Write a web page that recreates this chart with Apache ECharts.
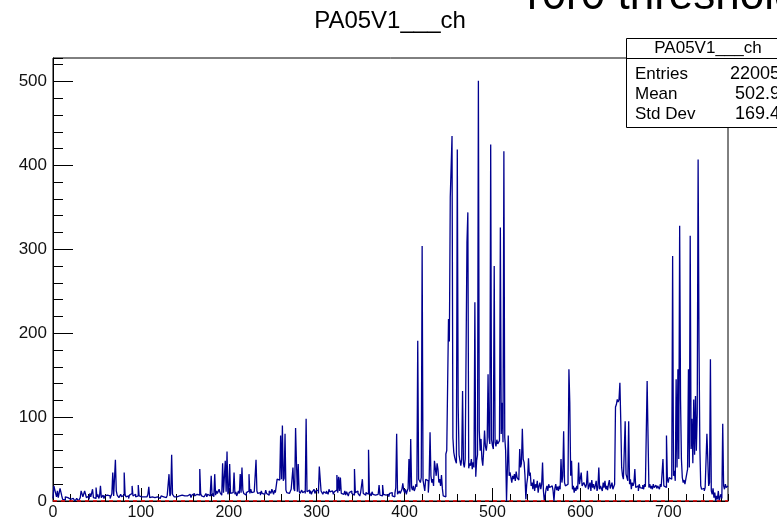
<!DOCTYPE html>
<html>
<head>
<meta charset="utf-8">
<script src="https://cdn.jsdelivr.net/npm/echarts@6/dist/echarts.min.js"></script>
<style>
  html, body { margin: 0; padding: 0; background: #fff; }
  #chart { width: 777px; height: 521px; }
</style>
</head>
<body>
<div id="chart"></div>
<script>
// bin contents of PA05V1___ch, channel 0..767
const counts = [
  3, 18, 17, 9, 5, 12, 4, 3, 15, 14, 6, 2, 3, 1, 5, 7, 4, 3, 6, 2,
  1, 0, 3, 2, 4, 0, 1, 3, 2, 0, 2, 4, 12, 11, 5, 3, 12, 8, 4, 3,
  6, 2, 9, 5, 3, 14, 4, 6, 3, 16, 5, 8, 3, 6, 18, 4, 5, 7, 3, 6,
  4, 7, 5, 8, 6, 3, 5, 9, 34, 6, 8, 49, 12, 7, 5, 4, 6, 8, 5, 3,
  7, 34, 8, 5, 4, 6, 3, 7, 5, 9, 18, 6, 4, 8, 5, 7, 6, 19, 6, 4,
  5, 3, 6, 5, 4, 7, 5, 3, 8, 17, 4, 6, 5, 3, 5, 4, 6, 3, 5, 7,
  4, 3, 5, 6, 4, 5, 3, 6, 4, 5, 7, 6, 32, 6, 9, 55, 8, 6, 5, 7,
  5, 6, 4, 6, 8, 5, 7, 9, 5, 6, 8, 4, 6, 7, 5, 8, 6, 4, 7, 5,
  9, 6, 5, 8, 6, 10, 7, 38, 9, 6, 8, 5, 7, 6, 9, 5, 8, 7, 6, 10,
  30, 6, 9, 5, 32, 7, 12, 9, 8, 14, 10, 9, 7, 45, 10, 9, 48, 11, 59, 8,
  12, 44, 9, 7, 10, 11, 34, 8, 11, 6, 8, 12, 9, 32, 10, 40, 13, 9, 11, 7,
  10, 8, 12, 32, 9, 14, 10, 8, 11, 9, 10, 49, 12, 9, 8, 10, 7, 12, 9, 11,
  8, 10, 13, 9, 11, 7, 12, 10, 9, 14, 11, 8, 13, 10, 12, 26, 24, 25, 28, 78,
  26, 90, 24, 27, 80, 13, 10, 12, 9, 11, 8, 14, 12, 40, 15, 12, 87, 46, 11, 44,
  12, 9, 11, 13, 10, 8, 12, 9, 98, 11, 10, 13, 9, 12, 8, 11, 10, 14, 9, 12,
  10, 13, 9, 41, 40, 12, 10, 8, 11, 13, 9, 12, 10, 8, 14, 11, 9, 12, 10, 8,
  11, 9, 13, 31, 10, 29, 12, 28, 9, 11, 8, 10, 12, 7, 11, 9, 6, 10, 8, 12,
  9, 11, 7, 38, 10, 8, 12, 9, 11, 6, 10, 8, 26, 9, 11, 7, 10, 12, 8, 61,
  10, 9, 6, 11, 8, 10, 7, 9, 5, 8, 10, 19, 7, 9, 6, 19, 8, 10, 7, 9,
  6, 8, 5, 9, 7, 10, 6, 8, 5, 9, 16, 80, 8, 10, 12, 9, 11, 14, 21, 13,
  10, 14, 8, 12, 15, 50, 11, 74, 16, 13, 18, 12, 15, 20, 17, 191, 26, 24, 22, 28,
  304, 25, 27, 12, 26, 28, 24, 10, 27, 82, 30, 22, 26, 18, 48, 50, 30, 45, 38, 22,
  26, 18, 31, 15, 6, 6, 5, 56, 60, 62, 217, 190, 362, 360, 435, 75, 58, 52, 48, 45,
  419, 113, 55, 48, 42, 50, 131, 45, 40, 50, 52, 308, 344, 39, 45, 42, 50, 38, 46, 40,
  237, 29, 48, 55, 501, 84, 60, 74, 50, 42, 60, 84, 65, 60, 70, 151, 76, 68, 425, 73,
  66, 62, 280, 70, 65, 73, 68, 70, 72, 326, 80, 117, 70, 417, 76, 60, 0, 40, 78, 30,
  34, 28, 22, 30, 26, 32, 24, 35, 28, 30, 25, 62, 40, 45, 86, 50, 46, 30, 2, 20,
  28, 51, 30, 34, 18, 22, 14, 26, 12, 20, 16, 24, 10, 18, 22, 14, 20, 46, 12, 0,
  0, 14, 18, 12, 20, 16, 14, 18, 19, 12, 0, 15, 20, 13, 17, 12, 18, 14, 50, 22,
  30, 83, 22, 18, 18, 20, 28, 157, 117, 30, 48, 14, 18, 10, 16, 12, 18, 14, 46, 20,
  22, 34, 18, 20, 22, 19, 16, 20, 36, 14, 18, 22, 12, 25, 16, 20, 14, 18, 24, 12,
  16, 40, 14, 18, 20, 12, 22, 16, 24, 14, 18, 13, 20, 25, 15, 18, 22, 14, 17, 20,
  112, 115, 121, 118, 121, 141, 95, 40, 30, 26, 28, 95, 32, 28, 24, 95, 20, 26, 14, 22,
  18, 22, 38, 16, 14, 18, 12, 20, 16, 18, 15, 19, 14, 20, 17, 18, 143, 78, 16, 20,
  15, 18, 14, 20, 16, 17, 19, 15, 18, 16, 14, 20, 17, 15, 50, 18, 20, 16, 78, 27,
  22, 28, 30, 26, 24, 292, 30, 36, 24, 145, 40, 157, 50, 328, 121, 50, 28, 22, 25, 20,
  26, 32, 38, 157, 40, 316, 62, 98, 45, 121, 55, 125, 60, 105, 407, 189, 62, 18, 14, 16,
  15, 12, 16, 14, 80, 50, 18, 22, 169, 12, 8, 15, 4, 10, 0, 6, 2, 12, 0, 5,
  8, 3, 92, 18, 14, 20, 16, 18
];
const nBins = 768;
// the red dashed line along zero
const zeroLineX = [0, 768];
const zeroLineY = [0, 0];

const statsLabels = ["Entries", "Mean", "Std Dev"];
const statsValues = ["22005", "502.9", "169.4"];

// step histogram: point at each bin's low edge, plus closing point at the upper edge
const histData = counts.map((v, i) => [i, v]);
histData.push([nBins, counts[counts.length - 1]]);

const font = "Liberation Sans, Arial, sans-serif";

const chart = echarts.init(document.getElementById("chart"));

const statsGraphics = [];
statsLabels.forEach((lab, i) => {
  statsGraphics.push({
    type: "text", x: 635, y: 74 + i * 20, z: 101,
    style: { text: lab, font: "17px " + font, fill: "#000", align: "left", verticalAlign: "middle" },
  });
  statsGraphics.push({
    type: "text", x: 780, y: 74 + i * 20, z: 101,
    style: { text: statsValues[i], font: "18px " + font, fill: "#000", align: "right", verticalAlign: "middle" },
  });
});

chart.setOption({
  animation: false,
  backgroundColor: "#fff",
  grid: {
    left: 53, right: 49, top: 58, bottom: 19,
    show: true, borderColor: "#000", borderWidth: 1,
  },
  xAxis: [
    {
      type: "value", min: 0, max: nBins, interval: 100,
      axisLine: { show: true, lineStyle: { color: "#000", width: 1 } },
      axisTick: { show: true, inside: true, length: 13, lineStyle: { color: "#000" } },
      axisLabel: { fontSize: 16, color: "#111", fontFamily: font, margin: 4, showMaxLabel: false },
      splitLine: { show: false },
    },
    {
      type: "value", min: 0, max: nBins, interval: 20, position: "bottom",
      axisLine: { show: false },
      axisTick: { show: true, inside: true, length: 7, lineStyle: { color: "#000" } },
      axisLabel: { show: false },
      splitLine: { show: false },
    },
  ],
  yAxis: [
    {
      type: "value", min: 0, max: 528, interval: 100,
      axisLine: { show: true, lineStyle: { color: "#000", width: 1 } },
      axisTick: { show: true, inside: true, length: 20, lineStyle: { color: "#000" } },
      axisLabel: { fontSize: 17, color: "#111", fontFamily: font, margin: 6, showMaxLabel: false },
      splitLine: { show: false },
    },
    {
      type: "value", min: 0, max: 528, interval: 20, position: "left",
      axisLine: { show: false },
      axisTick: { show: true, inside: true, length: 10, lineStyle: { color: "#000" } },
      axisLabel: { show: false },
      splitLine: { show: false },
    },
  ],
  series: [
    {
      type: "line",
      step: "end",
      data: histData,
      showSymbol: false,
      symbol: "none",
      lineStyle: { color: "#00008f", width: 1.3 },
      z: 3,
    },
    {
      type: "line",
      data: zeroLineX.map((x, i) => [x, zeroLineY[i]]),
      showSymbol: false,
      symbol: "none",
      lineStyle: { color: "#ff0000", width: 1.5, type: [4, 4] },
      z: 5,
    },
  ],
  graphic: [
    {
      type: "text", x: 527, y: 19, z: 100,
      style: { text: "r0r0 threshold", font: "44px " + font, fill: "#000", align: "left", verticalAlign: "bottom" },
    },
    {
      type: "text", x: 390, y: 21, z: 100,
      style: { text: "PA05V1___ch", font: "24px " + font, fill: "#000", align: "center", verticalAlign: "middle" },
    },
    {
      type: "rect", z: 100,
      shape: { x: 626.5, y: 38.5, width: 200, height: 89 },
      style: { fill: "#fff", stroke: "#000", lineWidth: 1 },
    },
    {
      type: "line", z: 101,
      shape: { x1: 626, y1: 58.5, x2: 777, y2: 58.5 },
      style: { stroke: "#000", lineWidth: 1 },
    },
    {
      type: "text", x: 708, y: 48, z: 101,
      style: { text: "PA05V1___ch", font: "17px " + font, fill: "#000", align: "center", verticalAlign: "middle" },
    },
  ].concat(statsGraphics),
});
</script>
</body>
</html>
